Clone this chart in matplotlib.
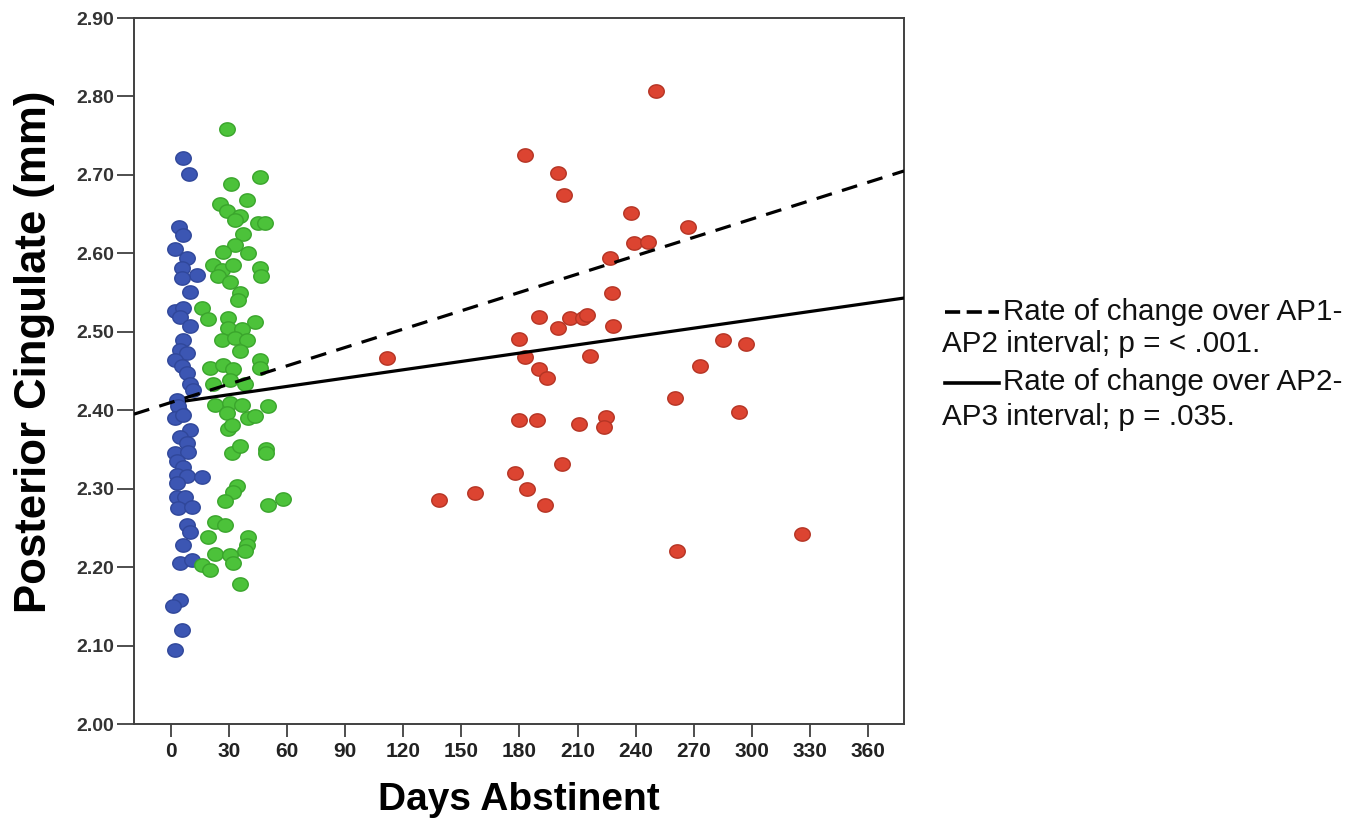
import matplotlib
matplotlib.use("Agg")
import matplotlib.pyplot as plt
import numpy as np
from matplotlib.path import Path
from matplotlib.lines import Line2D

# AP1 scans (blue): days abstinent, thickness (mm)
ap1_days = [6.4, 9.5, 4.3, 6.4, 2.1, 8.1, 5.5, 13.2, 5.5, 9.8, 2.1, 6.4, 4.6, 9.8,
            6.4, 4.6, 8.1, 2.1, 5.5, 8.1, 9.8, 11.5, 3.0, 4.6,
            3.8, 2.1, 6.4, 9.8, 4.6, 8.1, 2.1, 8.9, 3.0, 6.4, 3.0, 8.1, 15.8, 3.0,
            3.0, 7.2, 3.8, 10.7, 8.1, 9.8, 6.4, 4.6, 10.7, 4.6, 1.2, 5.5, 2.1]
ap1_vals = [2.721, 2.701, 2.634, 2.624, 2.605, 2.594, 2.581, 2.573, 2.569, 2.551, 2.526, 2.530, 2.519, 2.507,
            2.490, 2.477, 2.473, 2.464, 2.456, 2.447, 2.434, 2.426, 2.413, 2.398,
            2.405, 2.390, 2.394, 2.375, 2.366, 2.358, 2.345, 2.347, 2.335, 2.328, 2.318, 2.316, 2.315, 2.307,
            2.290, 2.290, 2.275, 2.277, 2.254, 2.245, 2.228, 2.205, 2.209, 2.158, 2.150, 2.120, 2.094]

# AP2 scans (green)
ap2_days = [29.1, 30.8, 46.0, 39.1, 25.3, 28.7, 35.6, 33.1, 45.1, 48.6, 37.3, 33.1, 27.0, 39.9,
            21.8, 26.2, 32.2, 46.0, 46.7, 24.4, 30.5, 35.6, 34.8, 15.8, 19.3, 29.6, 43.4, 29.6,
            36.5, 26.2, 33.1, 39.1, 35.6, 20.1, 27.0, 32.2, 46.0, 46.0, 21.8, 30.5, 38.2, 22.7,
            30.5, 36.5, 50.3, 28.7, 39.9, 43.4, 29.6, 31.3, 31.3, 35.6, 49.1, 49.1, 33.9, 32.2,
            27.9, 49.9, 58.0, 22.7, 27.9, 19.3, 39.9, 39.1, 38.2, 22.7, 30.5, 32.2, 15.8, 20.1, 35.6]
ap2_vals = [2.758, 2.689, 2.697, 2.668, 2.663, 2.654, 2.647, 2.643, 2.639, 2.639, 2.625, 2.611, 2.602, 2.601,
            2.585, 2.579, 2.585, 2.581, 2.571, 2.571, 2.564, 2.549, 2.541, 2.530, 2.516, 2.518, 2.513, 2.505,
            2.503, 2.490, 2.492, 2.490, 2.475, 2.454, 2.458, 2.452, 2.464, 2.454, 2.434, 2.439, 2.434, 2.407,
            2.409, 2.407, 2.405, 2.396, 2.390, 2.392, 2.376, 2.381, 2.346, 2.354, 2.350, 2.345, 2.303, 2.296,
            2.284, 2.279, 2.287, 2.258, 2.254, 2.239, 2.239, 2.228, 2.220, 2.217, 2.215, 2.205, 2.203, 2.196, 2.179]

# AP3 scans (red)
ap3_days = [250.5, 182.9, 199.9, 202.8, 237.6, 267.2, 239.3, 246.6, 226.8, 228.0, 179.8, 190.0,
            200.0, 206.0, 212.6, 214.7, 228.5, 111.4, 182.9, 216.4, 190.0, 194.0, 273.2, 260.3,
            180.0, 188.9, 210.7, 224.5, 223.8, 201.8, 177.8, 184.0, 193.2, 157.0, 138.4, 261.2,
            285.3, 297.0, 293.2, 326.0]
ap3_vals = [2.807, 2.725, 2.702, 2.675, 2.651, 2.634, 2.613, 2.615, 2.594, 2.549, 2.491, 2.519,
            2.505, 2.517, 2.517, 2.522, 2.508, 2.466, 2.468, 2.469, 2.452, 2.441, 2.456, 2.415,
            2.387, 2.387, 2.383, 2.391, 2.379, 2.332, 2.320, 2.300, 2.279, 2.294, 2.286, 2.221,
            2.489, 2.484, 2.398, 2.242]

# rate-of-change lines: (start day, value) -> (end day, value)
ap12_line = ([-19.1, 378.6], [2.395, 2.705])
ap23_line = ([8.0, 378.6], [2.412, 2.543])

x_ticks = list(range(0, 361, 30))
y_ticks = [2.0 + 0.1 * i for i in range(10)]

# slightly flattened dot like the original
t = np.linspace(0, 2 * np.pi, 40)
ellipse = Path(np.column_stack([np.cos(t), 0.86 * np.sin(t)]), closed=True)

W, H = 1364, 821
fig = plt.figure(figsize=(W / 100, H / 100), dpi=100)
ax = fig.add_axes([134 / W, 1 - 724 / H, (904 - 134) / W, (724 - 18) / H])

dot = dict(marker=ellipse, s=125, linewidths=1.0, zorder=3)
ax.scatter(ap1_days, ap1_vals, color="#3c56b3", edgecolors="#30479a", **dot)
ax.scatter(ap2_days, ap2_vals, color="#4cc23a", edgecolors="#3aa52c", **dot)
ax.scatter(ap3_days, ap3_vals, color="#dc4431", edgecolors="#b53424", **dot)

ax.plot(*ap12_line, color="black", lw=2.3, dashes=(5, 3.3), zorder=4)
ax.plot(*ap23_line, color="black", lw=2.3, zorder=4)

ax.set_xlim(-19.1, 378.6)
ax.set_ylim(2.0, 2.9)
ax.set_xticks(x_ticks)
ax.set_yticks(y_ticks)
ax.set_yticklabels([f"{v:.2f}" for v in y_ticks])
for s in ax.spines.values():
    s.set_color("#404040")
    s.set_linewidth(1.4)
ax.tick_params(axis="both", direction="out", color="#404040", width=1.3)
ax.tick_params(axis="y", length=12, pad=2)
ax.tick_params(axis="x", length=9, pad=4)
for lab in ax.get_yticklabels():
    lab.set_fontfamily(["Liberation Sans", "DejaVu Sans"])
    lab.set_fontweight("bold")
    lab.set_fontsize(14)
    lab.set_color("#333333")
for lab in ax.get_xticklabels():
    lab.set_fontfamily(["Liberation Sans Narrow", "DejaVu Sans Condensed", "Liberation Sans"])
    lab.set_fontweight("bold")
    lab.set_fontsize(15)
    lab.set_color("#222222")

ax.set_xlabel("Days Abstinent", fontsize=28, fontweight="bold",
              family=["Liberation Sans", "DejaVu Sans"], labelpad=15)
ax.set_ylabel("Posterior Cingulate (mm)", fontsize=31.5, fontweight="bold",
              family=["Liberation Sans", "DejaVu Sans"], labelpad=8)
ax.yaxis.set_label_coords(-0.103, 0.527)

# legend drawn as text + sample lines to the right of the axes
def fx(px):
    return px / W

def fy(py):
    return 1 - py / H

txt = dict(fontsize=21.3, family=["Liberation Sans", "DejaVu Sans"], va="baseline", color="#111111")
fig.text(fx(1003), fy(320), "Rate of change over AP1-", **txt)
fig.text(fx(942), fy(352), "AP2 interval; p = < .001.", **txt)
fig.text(fx(1003), fy(390), "Rate of change over AP2-", **txt)
fig.text(fx(942), fy(425), "AP3 interval; p = .035.", **txt)
fig.add_artist(Line2D([fx(945), fx(999)], [fy(312), fy(312)], color="black", lw=2.6, dashes=(4.2, 1.8)))
fig.add_artist(Line2D([fx(945), fx(999)], [fy(383), fy(383)], color="black", lw=2.6))

fig.savefig("out.png", dpi=100)
